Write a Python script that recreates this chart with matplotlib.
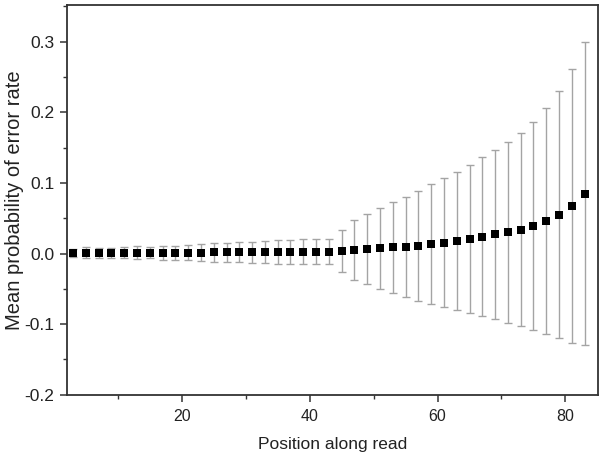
import matplotlib
matplotlib.use("Agg")
import matplotlib.pyplot as plt
from matplotlib.ticker import MultipleLocator, FormatStrFormatter

plt.rcParams['font.family'] = ['Liberation Sans', 'DejaVu Sans']

positions = [3, 5, 7, 9, 11, 13, 15, 17, 19, 21, 23, 25, 27, 29, 31, 33, 35, 37, 39, 41,
             43, 45, 47, 49, 51, 53, 55, 57, 59, 61, 63, 65, 67, 69, 71, 73, 75, 77, 79, 81, 83]
mean_rate = [0.001, 0.001, 0.001, 0.001, 0.001, 0.001, 0.001, 0.001, 0.001, 0.0012,
             0.0014, 0.0015, 0.0016, 0.0017, 0.0018, 0.002, 0.002, 0.0025, 0.0026, 0.0026,
             0.0026, 0.0035, 0.005, 0.0064, 0.0073, 0.0087, 0.0097, 0.011, 0.013, 0.0153,
             0.018, 0.021, 0.024, 0.027, 0.030, 0.034, 0.039, 0.046, 0.055, 0.067, 0.085]
error = [0.006, 0.008, 0.007, 0.007, 0.008, 0.009, 0.008, 0.010, 0.010, 0.011,
         0.012, 0.0135, 0.0135, 0.014, 0.015, 0.016, 0.017, 0.017, 0.018, 0.018,
         0.018, 0.030, 0.042, 0.050, 0.057, 0.064, 0.071, 0.078, 0.085, 0.091,
         0.098, 0.105, 0.113, 0.120, 0.128, 0.137, 0.147, 0.160, 0.175, 0.194, 0.214]

fig = plt.figure(figsize=(6.01, 4.68), dpi=100)
ax = fig.add_axes([0.111, 0.1566, 0.8835, 0.8327])

ax.errorbar(positions, mean_rate, yerr=error, fmt='none', ecolor='#a4a4a4',
            elinewidth=1.0, capsize=2.6, capthick=1.0, zorder=2)
ax.plot(positions, mean_rate, 's', color='black', markersize=5.4,
        markeredgewidth=0, zorder=3)

ax.set_xlim(2, 85.05)
ax.set_ylim(-0.2, 0.352)
ax.xaxis.set_major_locator(MultipleLocator(20))
ax.xaxis.set_minor_locator(MultipleLocator(10))
ax.yaxis.set_major_locator(MultipleLocator(0.1))
ax.yaxis.set_minor_locator(MultipleLocator(0.05))
ax.yaxis.set_major_formatter(FormatStrFormatter('%.1f'))

for s in ax.spines.values():
    s.set_color('#333333')
    s.set_linewidth(1.3)
ax.tick_params(which='major', direction='out', length=5, width=1.1, color='#333333',
               labelcolor='#222222', pad=4)
ax.tick_params(axis='x', which='major', labelsize=11.5, pad=5)
ax.tick_params(axis='y', which='major', labelsize=12.5)
ax.tick_params(which='minor', direction='out', length=3, width=1.0, color='#333333')

ax.set_xlabel('Position along read', fontsize=12.5, color='#222222', labelpad=10)
ax.set_ylabel('Mean probability of error rate', fontsize=14.5, color='#222222')
ax.yaxis.set_label_coords(-0.081, 0.5)

fig.savefig('out.png', dpi=100)
